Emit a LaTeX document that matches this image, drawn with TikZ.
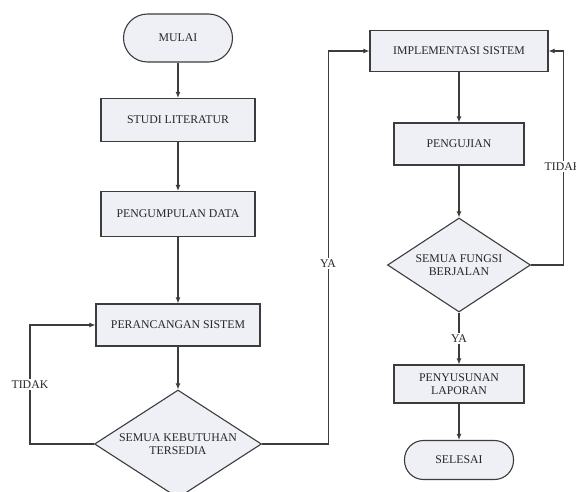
\documentclass[tikz,border=0pt]{standalone}
\usepackage{fontspec}
\setmainfont{Liberation Serif}
\usepackage{tikz}
\usetikzlibrary{positioning,arrows.meta,shapes.geometric}
\definecolor{boxfill}{RGB}{238,240,246}
\definecolor{boxline}{RGB}{60,60,60}

\begin{document}
\begin{tikzpicture}[x=1pt,y=-1pt,
  every node/.style={font=\fontsize{11.8}{13.5}\selectfont,text=black!85},
  procbox/.style={draw=boxline,line width=1.1pt,fill=boxfill,align=center,inner sep=0pt},
  termbox/.style={procbox,rounded corners=19pt},
  decbox/.style={draw=boxline,line width=1.1pt,fill=boxfill,diamond,align=center,inner sep=0pt},
  arr/.style={draw=boxline,line width=1.1pt,-{Latex[length=6pt,width=5pt]}},
  lbl/.style={fill=white,inner sep=1.5pt}]
  \useasboundingbox (0,0) rectangle (576,492);
  \clip (0,0) rectangle (576,492);
  \fill[white] (0,0) rectangle (576,492);
  % left column
  \node[termbox,minimum width=109pt,minimum height=48pt,rounded corners=24pt] (mulai) at (178,38) {MULAI};
  \node[procbox,minimum width=154pt,minimum height=43pt] (studi) at (178,120) {STUDI LITERATUR};
  \node[procbox,minimum width=154pt,minimum height=45pt] (kumpul) at (178,214) {PENGUMPULAN DATA};
  \node[procbox,minimum width=164pt,minimum height=42pt] (rancang) at (178,325) {PERANCANGAN SISTEM};
  \node[decbox,aspect=1.55,minimum width=167pt,minimum height=108pt] (butuh) at (178,444) {SEMUA KEBUTUHAN\\TERSEDIA};
  % right column
  \node[procbox,minimum width=178pt,minimum height=41pt] (impl) at (459,51) {IMPLEMENTASI SISTEM};
  \node[procbox,minimum width=130pt,minimum height=42pt] (uji) at (459,144) {PENGUJIAN};
  \node[decbox,aspect=1.52,minimum width=143pt,minimum height=94pt] (fungsi) at (459,265) {SEMUA FUNGSI\\BERJALAN};
  \node[procbox,minimum width=130pt,minimum height=38pt] (lapor) at (459,384) {PENYUSUNAN\\LAPORAN};
  \node[termbox,minimum width=109pt,minimum height=39pt] (selesai) at (459,460) {SELESAI};
  % connectors
  \draw[arr] (mulai) -- (studi);
  \draw[arr] (studi) -- (kumpul);
  \draw[arr] (kumpul) -- (rancang);
  \draw[arr] (rancang) -- (butuh);
  \draw[arr] (butuh.west) -- ++(-64,0) |- node[lbl,pos=0.25]{TIDAK} (rancang.west);
  \draw[arr] (butuh.east) -- ++(66,0) |- node[lbl,pos=0.23]{YA} (impl.west);
  \draw[arr] (impl) -- (uji);
  \draw[arr] (uji) -- (fungsi);
  \draw[arr] (fungsi.east) -- ++(32,0) |- node[lbl,pos=0.23]{TIDAK} (impl.east);
  \draw[arr] (fungsi) -- node[lbl,pos=0.5]{YA} (lapor);
  \draw[arr] (lapor) -- (selesai);
\end{tikzpicture}
\end{document}
